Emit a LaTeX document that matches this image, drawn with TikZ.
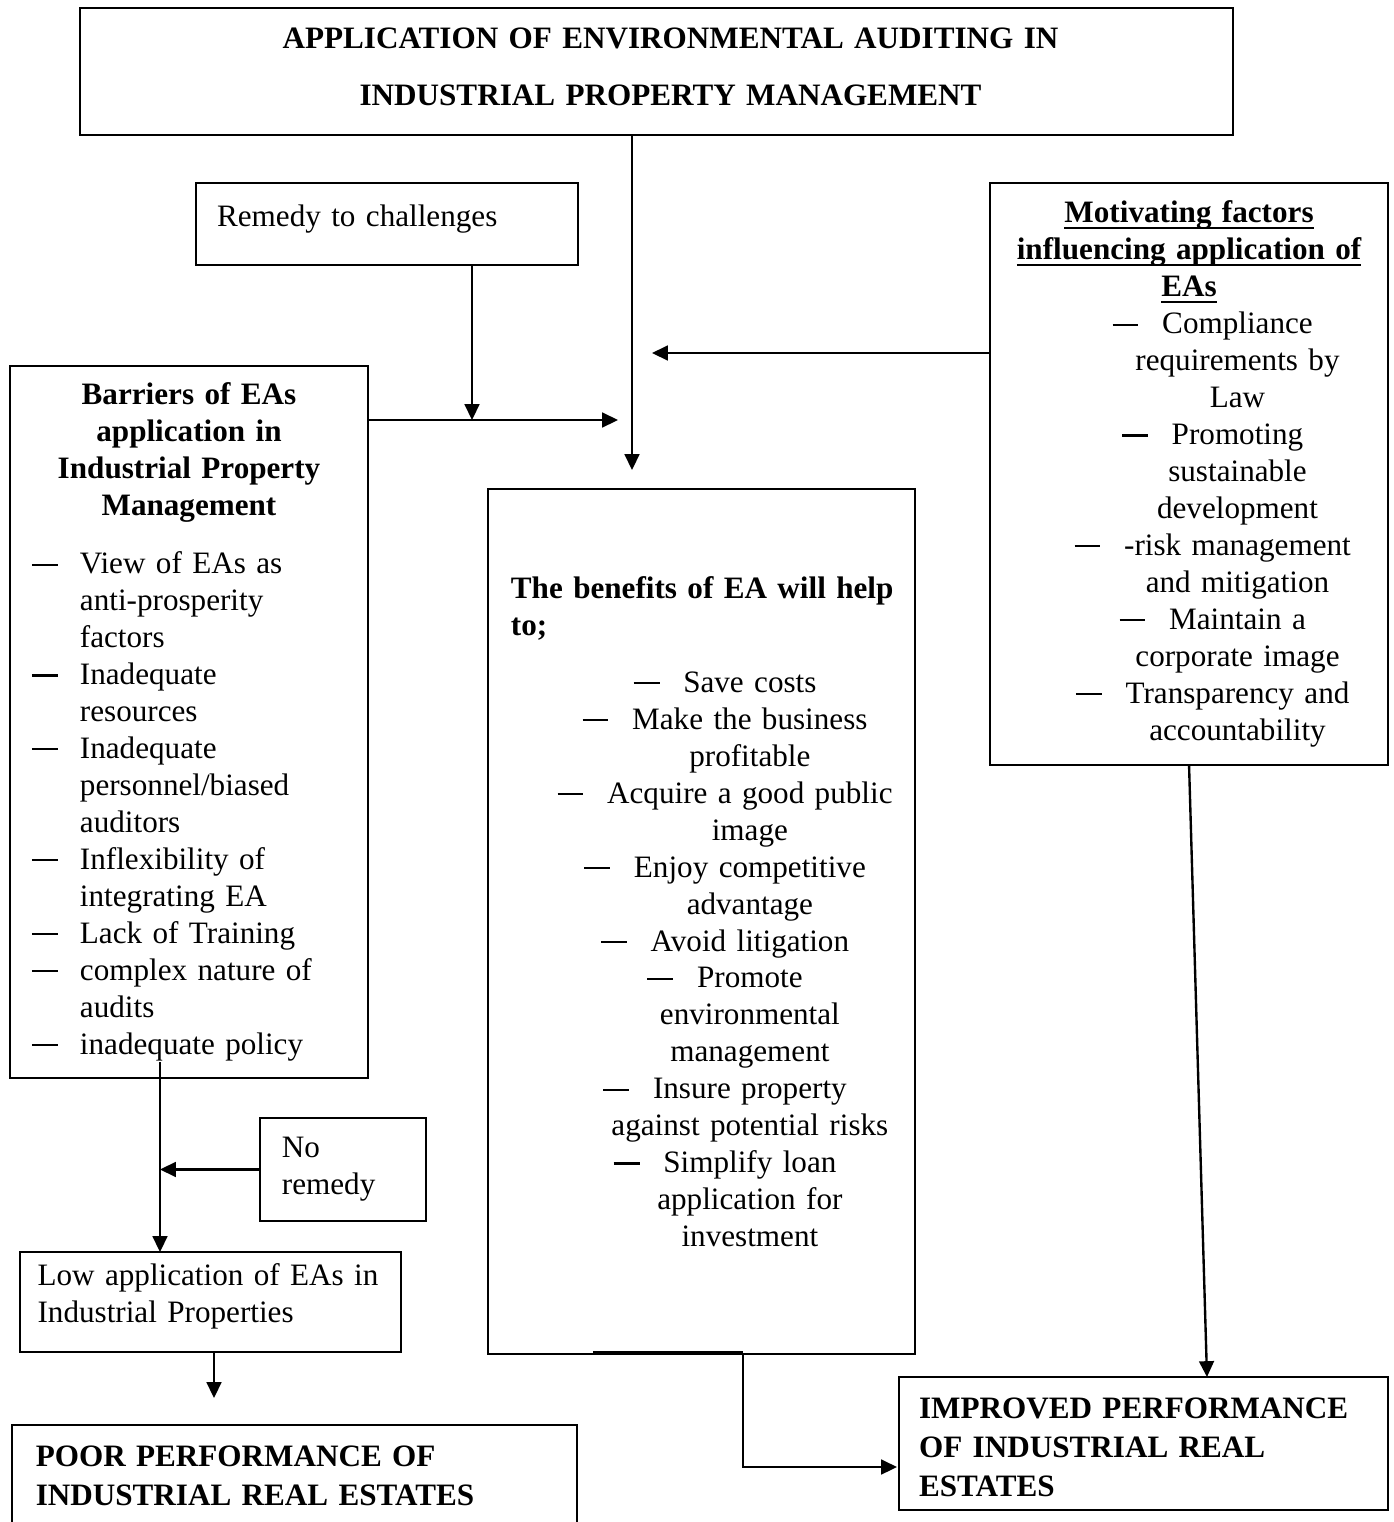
\documentclass[tikz,border=0pt]{standalone}
\usepackage{fontspec}
\setmainfont{Liberation Serif}
\usetikzlibrary{arrows.meta}

% list dashes, underlined headings and struts to move text up or down
\newcommand{\itemdash}{\rule[3.1pt]{9.8pt}{0.8pt}}
\newcommand{\dashitem}{\leavevmode\llap{\itemdash\hspace{9pt}}}
\newcommand{\hangitem}{\par\hangindent=18.2pt\hangafter=1\noindent\makebox[18.2pt][l]{\itemdash}}
\newcommand{\lift}[1]{\rule[-#1]{0pt}{#1}}
\newcommand{\sink}[1]{\rule{0pt}{#1}}
\newcommand{\headline}[1]{\leavevmode\setbox0\hbox{#1}\rlap{\rule[-2.4pt]{\wd0}{0.8pt}}\box0}
\newcommand{\shiftcentre}{\centering\leftskip=30pt plus 1fil\rightskip=-6.7pt plus 1fil\relax}

\begin{document}
\begin{tikzpicture}[
        x=0.3788pt, y=-0.3788pt,
        font=\fontsize{11.8}{14}\selectfont,
        panel/.style={draw, line width=0.9pt, anchor=north west, outer sep=0pt, inner ysep=0pt},
        arrow/.style={-{Triangle[length=6pt,width=5.6pt]}, line width=0.9pt},
    ]
    \useasboundingbox (0,0) rectangle (1394,1522);

    % Title box
    \node[panel, minimum width=436.8pt, minimum height=48.1pt, text width=420pt, inner xsep=8pt,
          align=center, font=\fontsize{11.8}{21.5}\selectfont\bfseries] (title) at (80,8)
        {\hspace*{10.6pt}APPLICATION OF ENVIRONMENTAL AUDITING IN\\
         \hspace*{10.6pt}INDUSTRIAL PROPERTY MANAGEMENT\lift{3.4pt}};

    % Remedy box
    \node[panel, minimum width=144.7pt, minimum height=31.1pt, text width=128.7pt, inner xsep=8pt] (remedy) at (196,183)
        {Remedy to challenges\lift{6pt}};

    % Barriers box
    \node[panel, minimum width=135.6pt, minimum height=269.7pt, text width=119pt, inner xsep=8.3pt] (barriers) at (10,366)
        {{\centering\bfseries Barriers of EAs\\ application in\\ Industrial Property\\ Management\par}%
         \vspace{8pt}%
         \hangitem View of EAs as\newline anti-prosperity\newline factors
         \hangitem Inadequate\newline resources
         \hangitem Inadequate\newline personnel/biased\newline auditors
         \hangitem Inflexibility of\newline integrating EA
         \hangitem Lack of Training
         \hangitem complex nature of\newline audits
         \hangitem inadequate policy};

    % Benefits box
    \node[panel, minimum width=161.7pt, minimum height=327.7pt, text width=144.3pt, inner xsep=8.7pt] (benefits) at (488,489)
        {\textbf{\mbox{The benefits of EA will help}\newline to;}\par
         \vspace{7.6pt}%
         \shiftcentre
         \dashitem Save costs\\
         \dashitem Make the business\\ profitable\\
         \dashitem Acquire a good public\\ image\\
         \dashitem Enjoy competitive\\ advantage\\
         \dashitem Avoid litigation\\
         \dashitem Promote\\ environmental\\ management\\
         \dashitem Insure property\\ against potential risks\\
         \dashitem Simplify loan\\ application for\\ investment\lift{7.6pt}\par};

    % Motivating factors box
    \node[panel, minimum width=150.8pt, minimum height=220.5pt, text width=134.8pt, inner xsep=8pt] (motiv) at (990,183)
        {{\centering\bfseries \headline{Motivating factors}\\ \headline{influencing application of}\\ \headline{EAs}\par}%
         \shiftcentre
         \dashitem Compliance\\ requirements by\\ Law\\
         \dashitem Promoting\\ sustainable\\ development\\
         \dashitem -risk management\\ and mitigation\\
         \dashitem Maintain a\\ corporate image\\
         \dashitem Transparency and\\ accountability\par};

    % Lower left boxes
    \node[panel, minimum width=62.9pt, minimum height=39pt, text width=46.3pt, inner xsep=8.3pt] (noremedy) at (260,1118)
        {No\newline remedy};
    \node[panel, minimum width=144.3pt, minimum height=37.9pt, text width=131pt, inner xsep=6.6pt] (lowapp) at (20,1252)
        {\mbox{Low application of EAs in}\newline Industrial Properties\lift{6.6pt}};
    \node[panel, minimum width=214pt, minimum height=45.5pt, text width=196pt, inner xsep=9pt, font=\fontsize{11.8}{14.8}\selectfont\bfseries] (poor) at (12,1425)
        {POOR PERFORMANCE OF\newline INDUSTRIAL REAL ESTATES\lift{7pt}};

    % Result box
    \node[panel, minimum width=185.2pt, minimum height=50.4pt, text width=170pt, inner xsep=7.6pt, font=\fontsize{11.8}{14.8}\selectfont\bfseries] (improved) at (899,1377)
        {\sink{10.5pt}IMPROVED PERFORMANCE\newline OF INDUSTRIAL REAL\newline ESTATES};

    % Connector ends
    \coordinate (hub) at (632,470);
    \coordinate (join) at (472,420);
    \coordinate (bend) at (618,420);
    \coordinate (motivtip) at (652,353);
    \coordinate (drop) at (160,1062);
    \coordinate (poortip) at (214,1398);
    \coordinate (ledge) at (593,1353);
    \coordinate (turn) at (743,1353);
    \coordinate (improvtip) at (897,1467);
    \coordinate (improvtop) at (1207,1377);

    % Connectors
    \draw[arrow] (title.south -| hub) -- (hub);
    \draw[arrow] (remedy.south -| join) -- (join);
    \draw[arrow] (barriers.east |- join) -- (bend);
    \draw[arrow] (motiv.west |- motivtip) -- (motivtip);
    \draw[arrow] (drop) -- (drop |- lowapp.north);
    \draw[arrow] (noremedy.west) -- (noremedy.west -| drop);
    \draw[arrow] (lowapp.south -| poortip) -- (poortip);
    \draw[line width=1.7pt] (ledge) -- (turn);
    \draw[arrow] (turn) |- (improvtip);
    \draw[arrow] (motiv.south) -- (improvtop);

\end{tikzpicture}
\end{document}
